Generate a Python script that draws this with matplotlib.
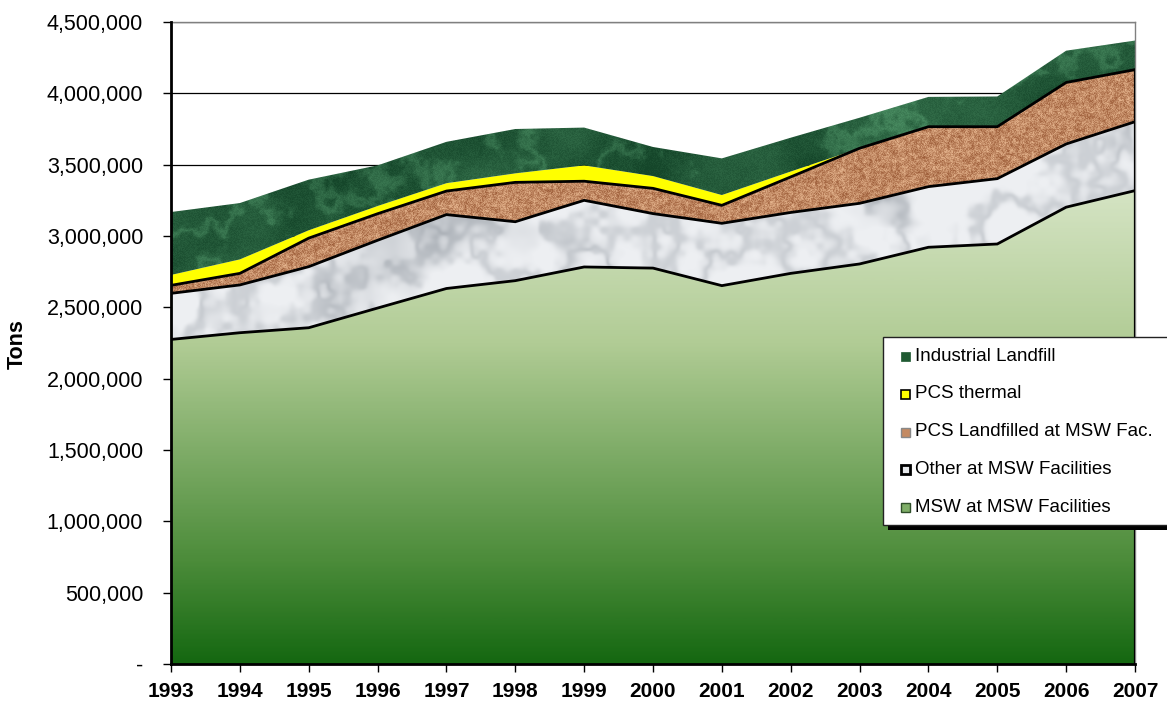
import numpy as np
import matplotlib.pyplot as plt
from matplotlib.patches import Rectangle
from matplotlib.ticker import FuncFormatter, MultipleLocator
from matplotlib.colors import LinearSegmentedColormap, to_rgb

plt.rcParams['font.family'] = ['Liberation Sans', 'DejaVu Sans']

# data (tons)
years = list(range(1993, 2008))
msw = [2275000, 2322000, 2357000, 2495000, 2632000, 2687000, 2783000, 2775000,
       2652000, 2738000, 2804000, 2921000, 2944000, 3202000, 3318000]
other = [323000, 335000, 428000, 475000, 518000, 413000, 467000, 382000,
         437000, 427000, 425000, 425000, 458000, 443000, 483000]
pcs_lf = [56000, 81000, 200000, 186000, 165000, 276000, 134000, 177000,
          126000, 249000, 386000, 420000, 364000, 431000, 365000]
pcs_thermal = [73000, 98000, 55000, 54000, 55000, 63000, 111000, 86000,
               72000, 38000, 0, 0, 0, 0, 0]
industrial = [441000, 395000, 355000, 285000, 290000, 311000, 265000, 204000,
              257000, 237000, 214000, 209000, 212000, 223000, 204000]

labels = ['MSW at MSW Facilities', 'Other at MSW Facilities',
          'PCS Landfilled at MSW Fac.', 'PCS thermal', 'Industrial Landfill']

W, H = 1167, 704
fig = plt.figure(figsize=(W / 100, H / 100), dpi=100)
ax = fig.add_axes([171 / W, 40 / H, 964 / W, 642 / H])
ax.set_xlim(1993, 2007)
ax.set_ylim(0, 4500000)

# --- textures (deterministic hash noise) -----------------------------------
th, tw = 642, 964
yy, xx = np.mgrid[0:th, 0:tw].astype(float)


def hsh(x, y):
    v = np.sin(x * 12.9898 + y * 78.233) * 43758.5453
    return v - np.floor(v)


def vnoise(cell, seed):
    gh, gw = int(th / cell) + 2, int(tw / cell) + 2
    gy, gx = np.mgrid[0:gh, 0:gw].astype(float)
    g = hsh(gx + seed * 7.13, gy + seed * 3.71)
    fyy, fxx = yy / cell, xx / cell
    y0, x0 = np.floor(fyy).astype(int), np.floor(fxx).astype(int)
    ty, tx = fyy - y0, fxx - x0
    ty, tx = ty * ty * (3 - 2 * ty), tx * tx * (3 - 2 * tx)
    a = g[y0, x0] * (1 - tx) + g[y0, x0 + 1] * tx
    b = g[y0 + 1, x0] * (1 - tx) + g[y0 + 1, x0 + 1] * tx
    return a * (1 - ty) + b * ty


def fbm(seed, cells=(80, 40, 20, 10, 5, 2.5)):
    tot, amp, s = 0, 1.0, 0
    for c in cells:
        tot = tot + amp * vnoise(c, seed + c)
        s += amp
        amp *= 0.55
    return tot / s


def mix(c1, c2, a):
    c1 = np.array(to_rgb(c1))
    c2 = np.array(to_rgb(c2))
    a = np.clip(a, 0, 1)[..., None]
    return c1 * (1 - a) + c2 * a


# dark green marble
f1 = fbm(1)
f1b = fbm(5)
vein1 = np.exp(-((f1b - 0.5) / 0.035) ** 2)
a1 = 1.3 * (f1 - 0.3) * 0.6 + 0.4 * vein1 + 0.2 * hsh(xx, yy)
tex_green = mix('#15462a', '#4a8d62', a1)

# white marble
f2 = fbm(11, cells=(90, 45, 22, 11))
f2b = fbm(17, cells=(70, 35, 17, 8))
vein2 = np.exp(-((f2b - 0.5) / 0.06) ** 2)
a2 = 0.35 * vein2 + 0.4 * np.clip((f2 - 0.5) * 3, 0, 1)
tex_white = mix('#eef0f3', '#8f969e', a2)

# cork
n3 = hsh(xx, yy)
n3b = vnoise(3, 23)
a3 = 0.55 * n3 + 0.45 * n3b
tex_cork = mix('#9a5a36', '#e8b891', a3)

msw_cmap = LinearSegmentedColormap.from_list(
    'msw', [(0.0, '#156811'), (0.16, '#4c8c3a'), (0.5, '#b1cc95'),
            (0.74, '#d5e4c4'), (1.0, '#e9f1df')])

# --- stacked areas ------------------------------------------------------------
series = [msw, other, pcs_lf, pcs_thermal, industrial]
base = np.zeros(len(years))
tops = []
textures = [None, tex_white, tex_cork, None, tex_green]
extent = (1993, 2007, 0, 4500000)
for i, vals in enumerate(series):
    top = base + np.array(vals)
    fill = ax.fill_between(years, base, top, facecolor='none',
                           edgecolor='none', linewidth=0, zorder=1)
    clip = fill.get_paths()[0]
    if i == 0:
        im = ax.imshow(np.linspace(0, 1, 400)[:, None], cmap=msw_cmap,
                       origin='lower', extent=extent, aspect='auto',
                       interpolation='bilinear', zorder=1)
        im.set_clip_path(clip, ax.transData)
    elif i == 3:
        ax.fill_between(years, base, top, facecolor='#ffff00',
                        edgecolor='none', linewidth=0, zorder=1)
    else:
        im = ax.imshow(textures[i], origin='upper', extent=extent,
                       aspect='auto', interpolation='bilinear', zorder=1)
        im.set_clip_path(clip, ax.transData)
    tops.append(top)
    base = top

for top in tops[:3]:
    ax.plot(years, top, color='black', lw=2.0, zorder=3,
            solid_joinstyle='miter')
ax.plot([2007, 2007], [0, tops[2][-1]], color='black', lw=1.6, zorder=3)

# --- axes styling -----------------------------------------------------------------
ax.yaxis.set_major_locator(MultipleLocator(500000))
ax.xaxis.set_major_locator(MultipleLocator(1))
ax.yaxis.set_major_formatter(
    FuncFormatter(lambda v, p: '-' if v == 0 else f'{int(v):,}'))
ax.xaxis.set_major_formatter(FuncFormatter(lambda v, p: f'{int(v)}'))
ax.grid(axis='y', color='black', lw=0.9, zorder=0)
ax.set_axisbelow(True)
ax.tick_params(axis='y', length=6, width=1, pad=14, labelsize=15.5)
ax.tick_params(axis='x', length=6, width=1, pad=7, labelsize=15)
for lab in ax.get_xticklabels():
    lab.set_fontweight('bold')
for s in ['left', 'bottom']:
    ax.spines[s].set_linewidth(2.0)
    ax.spines[s].set_color('black')
for s in ['top', 'right']:
    ax.spines[s].set_linewidth(1.0)
    ax.spines[s].set_color('#808080')
ax.spines['left'].set_zorder(4)
ax.spines['bottom'].set_zorder(4)

fig.text(17 / W, 1 - 344 / H, 'Tons', rotation=90, ha='center', va='center',
         fontsize=15.5, fontweight='bold')

# --- legend drawn by hand -----------------------------------------------------------


def fx(px):
    return px / W


def fy(py):
    return 1 - py / H


lx0, ly0, lx1, ly1 = 883, 337, 1185, 525
fig.add_artist(Rectangle((fx(lx0 + 5), fy(ly1 + 5)), fx(lx1 - lx0),
                         (ly1 - ly0) / H, transform=fig.transFigure,
                         facecolor='black', edgecolor='none', zorder=5))
fig.add_artist(Rectangle((fx(lx0), fy(ly1)), fx(lx1 - lx0),
                         (ly1 - ly0) / H, transform=fig.transFigure,
                         facecolor='white', edgecolor='#222222', lw=1.0,
                         zorder=6))

leg_items = [('Industrial Landfill', '#1f5a32', '#1f5a32', 0.5),
             ('PCS thermal', '#ffff00', 'black', 1.2),
             ('PCS Landfilled at MSW Fac.', '#c48a62', '#888888', 1.0),
             ('Other at MSW Facilities', '#e6e8eb', 'black', 2.0),
             ('MSW at MSW Facilities', '#7fae68', '#2f4f2a', 1.0)]
row_y = [356, 394, 432, 469, 507]
msz = 9
for (txt, fc, ec, lw), ry in zip(leg_items, row_y):
    fig.add_artist(Rectangle((fx(901), fy(ry + msz / 2)), fx(msz), msz / H,
                             transform=fig.transFigure, facecolor=fc,
                             edgecolor=ec, lw=lw, zorder=7))
    fig.text(fx(915), fy(ry), txt, ha='left', va='center', fontsize=13.5,
             zorder=7)

fig.savefig('out.png', dpi=100)
